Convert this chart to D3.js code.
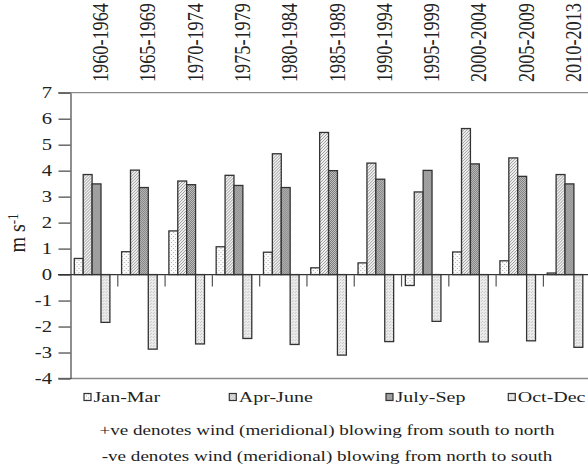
<!DOCTYPE html>
<html>
<head>
<meta charset="utf-8">
<script src="https://cdn.jsdelivr.net/npm/d3@7"></script>
<style>
  body { margin: 0; background: #fff; }
  text { font-family: "Liberation Serif", "Times New Roman", serif; fill: #222; }
</style>
</head>
<body>
<script>
// periods along the top
var periods = ["1960-1964", "1965-1969", "1970-1974", "1975-1979", "1980-1984", "1985-1989",
               "1990-1994", "1995-1999", "2000-2004", "2005-2009", "2010-2013"];
var seasons = ["Jan-Mar", "Apr-June", "July-Sep", "Oct-Dec"];

// meridional wind, m/s
var janMar  = [0.62, 0.88, 1.68, 1.07, 0.86, 0.26, 0.45, -0.42, 0.87, 0.53, 0.06];
var aprJune = [3.85, 4.02, 3.60, 3.82, 4.65, 5.47, 4.29, 3.18, 5.62, 4.49, 3.85];
var julySep = [3.49, 3.35, 3.46, 3.43, 3.35, 4.00, 3.67, 4.01, 4.26, 3.78, 3.49];
var octDec  = [-1.84, -2.87, -2.67, -2.46, -2.69, -3.10, -2.58, -1.80, -2.59, -2.55, -2.80];

var yTicks = [-4, -3, -2, -1, 0, 1, 2, 3, 4, 5, 6, 7];
var notes = ["+ve denotes wind (meridional) blowing from south to north",
             "-ve denotes wind (meridional) blowing from north to south"];

var seriesVals = [janMar, aprJune, julySep, octDec];
var data = periods.map(function(p, i) {
  return { period: p, vals: seasons.map(function(s, j) { return { season: s, v: seriesVals[j][i] }; }) };
});

var W = 588, H = 471;
var sx = 1.29; // the picture is stretched sideways

var svg = d3.select("body").append("svg").attr("width", W).attr("height", H);

// fill patterns
var defs = svg.append("defs");
function pat(id, size, bg, dots, dotColor) {
  var p = defs.append("pattern").attr("id", id).attr("patternUnits", "userSpaceOnUse")
    .attr("width", size).attr("height", size);
  p.append("rect").attr("width", size).attr("height", size).attr("fill", bg);
  dots.forEach(function(d) {
    p.append("rect").attr("x", d[0]).attr("y", d[1]).attr("width", 1).attr("height", 1).attr("fill", dotColor);
  });
}
pat("p0", 4, "#fbfbfb", [[0, 0], [2, 2]], "#b0b0b0");
pat("p1", 3, "#f2f2f2", [[0, 0], [1, 2], [2, 1]], "#9a9a9a");
pat("p2", 2, "#c4c4c4", [[0, 0], [1, 1]], "#7a7a7a");
pat("p3", 3, "#ececec", [[0, 0], [2, 1]], "#c4c4c4");
var fills = ["url(#p0)", "url(#p1)", "url(#p2)", "url(#p3)"];

var x0 = d3.scaleBand().domain(periods).range([70.5, 590.7]).padding(0);
var x1 = d3.scaleBand().domain(seasons).range([3.8, 3.8 + 35.6]).padding(0);
var y = d3.scaleLinear().domain([-4, 7]).range([378.5, 92.7]);

// frame lines
[7, -4].forEach(function(v) {
  svg.append("line").attr("x1", 58).attr("x2", W).attr("y1", y(v)).attr("y2", y(v))
    .attr("stroke", "#8a8a8a").attr("stroke-width", 1.3);
});

// y axis
var yAxis = d3.axisLeft(y).tickValues(yTicks).tickSize(12).tickSizeOuter(0).tickFormat("");
var yg = svg.append("g").attr("transform", "translate(70.5,0)").call(yAxis);
yg.selectAll("path, line").attr("stroke", "#444").attr("stroke-width", 1.2);

svg.selectAll(".ylbl").data(yTicks).enter().append("text")
  .attr("transform", function(d) { return "translate(52," + y(d) + ") scale(" + sx + ",1)"; })
  .attr("dy", "0.34em").attr("text-anchor", "end")
  .style("font-size", "16px")
  .text(function(d) { return d; });

// bars
var groups = svg.selectAll(".grp").data(data).enter().append("g")
  .attr("transform", function(d) { return "translate(" + x0(d.period) + ",0)"; });

groups.selectAll("rect").data(function(d) { return d.vals; }).enter().append("rect")
  .attr("x", function(d) { return x1(d.season); })
  .attr("width", x1.bandwidth())
  .attr("y", function(d) { return y(Math.max(0, d.v)); })
  .attr("height", function(d) { return Math.abs(y(d.v) - y(0)); })
  .attr("fill", function(d, j) { return fills[j]; })
  .attr("stroke", "#333").attr("stroke-width", 1.3);

// zero line with category ticks
svg.append("line").attr("x1", 58).attr("x2", W).attr("y1", y(0)).attr("y2", y(0))
  .attr("stroke", "#333").attr("stroke-width", 1.3);
svg.selectAll(".ctick").data(periods.slice(1)).enter().append("line")
  .attr("x1", function(d) { return x0(d); }).attr("x2", function(d) { return x0(d); })
  .attr("y1", y(0)).attr("y2", y(0) + 12)
  .attr("stroke", "#555").attr("stroke-width", 1.2);

// period labels on top
svg.selectAll(".plbl").data(periods).enter().append("text")
  .attr("transform", function(d) {
    return "translate(" + (x0(d) + x0.bandwidth() / 2 + 14) + ",82) scale(1.22,1) rotate(-90)";
  })
  .attr("text-anchor", "start")
  .style("font-size", "18.2px")
  .text(function(d) { return d; });

// y label
var yl = svg.append("text")
  .attr("transform", "translate(25,233) scale(1.2,1) rotate(-90)")
  .attr("text-anchor", "middle")
  .style("font-size", "20px");
yl.append("tspan").text("m s");
yl.append("tspan").attr("dy", "-0.45em").style("font-size", "13px").text("-1");

// legend
var legX = [84, 229.3, 386, 508.3];
var leg = svg.selectAll(".leg").data(seasons).enter().append("g")
  .attr("transform", function(d, i) { return "translate(" + legX[i] + ",393.5)"; });
leg.append("rect").attr("width", 7).attr("height", 7)
  .attr("fill", function(d, i) { return fills[i]; })
  .attr("stroke", "#333").attr("stroke-width", 1.2);
leg.append("text")
  .attr("transform", "translate(9.5,8.8) scale(" + sx + ",1)")
  .style("font-size", "15.5px")
  .text(function(d) { return d; });

// notes
svg.selectAll(".note").data(notes).enter().append("text")
  .attr("transform", function(d, i) { return "translate(327," + (435 + i * 26) + ") scale(" + sx + ",1)"; })
  .attr("text-anchor", "middle")
  .style("font-size", "14.8px")
  .text(function(d) { return d; });
</script>
</body>
</html>
